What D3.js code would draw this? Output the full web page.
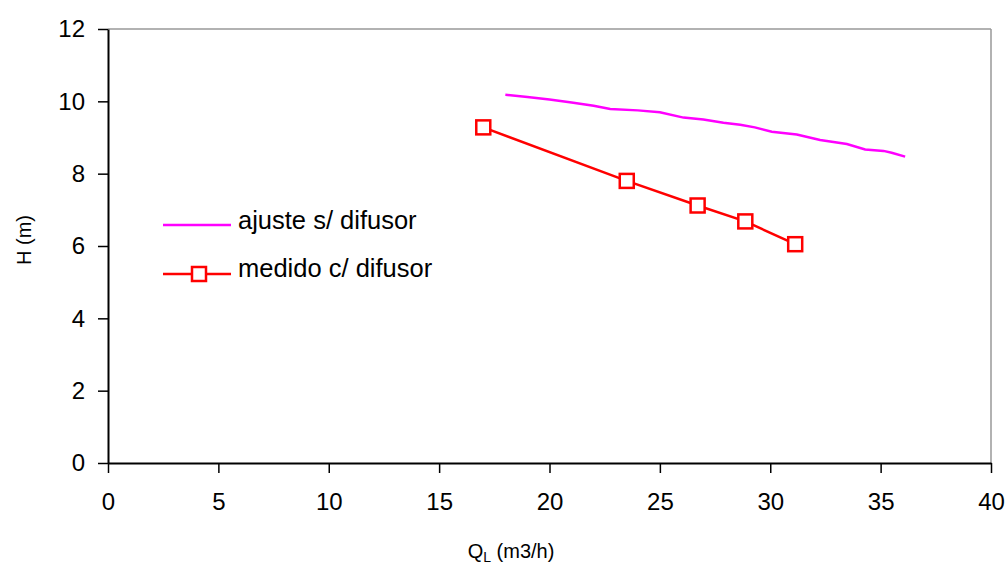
<!DOCTYPE html>
<html>
<head>
<meta charset="utf-8">
<script src="https://cdn.jsdelivr.net/npm/d3@7"></script>
<style>
  body { margin: 0; background: #fff; }
  text { font-family: Arial, "Liberation Sans", sans-serif; fill: #000; }
</style>
</head>
<body>
<div id="chart"></div>
<script>
// ajuste s/ difusor (fitted curve)
var ajusteQ = [18, 19, 20, 21, 22, 22.75, 24, 25, 26.07, 26.97, 27.88, 28.64, 29.3, 30.07, 31.2, 32.26, 33.47, 34.3, 35.13, 35.5, 36.11]
var ajusteH = [10.18, 10.12, 10.05, 9.97, 9.88, 9.79, 9.75, 9.70, 9.55, 9.50, 9.41, 9.35, 9.28, 9.16, 9.08, 8.93, 8.82, 8.67, 8.63, 8.58, 8.47]

// medido c/ difusor (measured)
var medidoQ = [17.0, 23.5, 26.71, 28.87, 31.13]
var medidoH = [9.28, 7.80, 7.12, 6.68, 6.05]

var xTicks = [0, 5, 10, 15, 20, 25, 30, 35, 40]
var yTicks = [0, 2, 4, 6, 8, 10, 12]

var W = 1008, H = 568
var pl = 108, pr = 991, pt = 29, pb = 463

var svg = d3.select("#chart")
  .append("svg")
  .attr("width", W)
  .attr("height", H)

var x = d3.scaleLinear().domain([0, 40]).range([pl, pr])
var y = d3.scaleLinear().domain([0, 12]).range([pb, pt])

// grey frame top / right
svg.append("line")
  .attr("x1", pl).attr("x2", pr)
  .attr("y1", pt).attr("y2", pt)
  .attr("stroke", "#999").attr("stroke-width", 1.5)
svg.append("line")
  .attr("x1", pr).attr("x2", pr)
  .attr("y1", pt).attr("y2", pb)
  .attr("stroke", "#999").attr("stroke-width", 1.5)

// x axis
var xAxis = svg.append("g")
  .attr("transform", "translate(0," + pb + ")")
  .call(d3.axisBottom(x).tickValues(xTicks).tickSize(10).tickPadding(20).tickSizeOuter(0))
xAxis.select(".domain").attr("stroke", "#000").attr("stroke-width", 2)
xAxis.selectAll(".tick line").attr("stroke", "#000").attr("stroke-width", 1.5)
xAxis.selectAll(".tick text")
  .attr("font-size", 24)
  .attr("font-family", "Arial, 'Liberation Sans', sans-serif")
  .attr("fill", "#000")

// y axis
var yAxis = svg.append("g")
  .attr("transform", "translate(" + pl + ",0)")
  .call(d3.axisLeft(y).tickValues(yTicks).tickSize(10).tickPadding(13).tickSizeOuter(0))
yAxis.select(".domain").attr("stroke", "#000").attr("stroke-width", 2)
yAxis.selectAll(".tick line").attr("stroke", "#000").attr("stroke-width", 1.5)
yAxis.selectAll(".tick text")
  .attr("font-size", 24)
  .attr("font-family", "Arial, 'Liberation Sans', sans-serif")
  .attr("fill", "#000")

// axis titles
var xt = svg.append("text")
  .attr("x", 511)
  .attr("y", 558)
  .attr("text-anchor", "middle")
  .attr("font-size", 20)
xt.append("tspan").text("Q")
xt.append("tspan").text("L").attr("font-size", 14).attr("dy", 4)
xt.append("tspan").text(" (m3/h)").attr("dy", -4)

svg.append("text")
  .attr("transform", "translate(31,240) rotate(-90)")
  .attr("text-anchor", "middle")
  .attr("font-size", 20)
  .text("H (m)")

// series
var ajuste = ajusteQ.map(function(d, i) { return [d, ajusteH[i]] })
var medido = medidoQ.map(function(d, i) { return [d, medidoH[i]] })

var line = d3.line()
  .x(function(d) { return x(d[0]) })
  .y(function(d) { return y(d[1]) })

svg.append("path")
  .datum(ajuste)
  .attr("d", line)
  .attr("fill", "none")
  .attr("stroke", "#ff00ff")
  .attr("stroke-width", 2.5)

svg.append("path")
  .datum(medido)
  .attr("d", line)
  .attr("fill", "none")
  .attr("stroke", "#ff0000")
  .attr("stroke-width", 2.5)

var ms = 14
svg.selectAll(".marker")
  .data(medido)
  .enter()
  .append("rect")
  .attr("class", "marker")
  .attr("x", function(d) { return x(d[0]) - ms / 2 })
  .attr("y", function(d) { return y(d[1]) - ms / 2 })
  .attr("width", ms)
  .attr("height", ms)
  .attr("fill", "#fff")
  .attr("stroke", "#ff0000")
  .attr("stroke-width", 2.5)

// legend
svg.append("line")
  .attr("x1", 163).attr("x2", 231)
  .attr("y1", 225).attr("y2", 225)
  .attr("stroke", "#ff00ff").attr("stroke-width", 2.5)
svg.append("text")
  .attr("x", 238).attr("y", 229)
  .attr("font-size", 25.5)
  .text("ajuste s/ difusor")

svg.append("line")
  .attr("x1", 163).attr("x2", 231)
  .attr("y1", 274).attr("y2", 274)
  .attr("stroke", "#ff0000").attr("stroke-width", 2.5)
svg.append("rect")
  .attr("x", 199 - ms / 2).attr("y", 274 - ms / 2)
  .attr("width", ms).attr("height", ms)
  .attr("fill", "#fff")
  .attr("stroke", "#ff0000").attr("stroke-width", 2.5)
svg.append("text")
  .attr("x", 238).attr("y", 277)
  .attr("font-size", 25.5)
  .text("medido c/ difusor")
</script>
</body>
</html>
